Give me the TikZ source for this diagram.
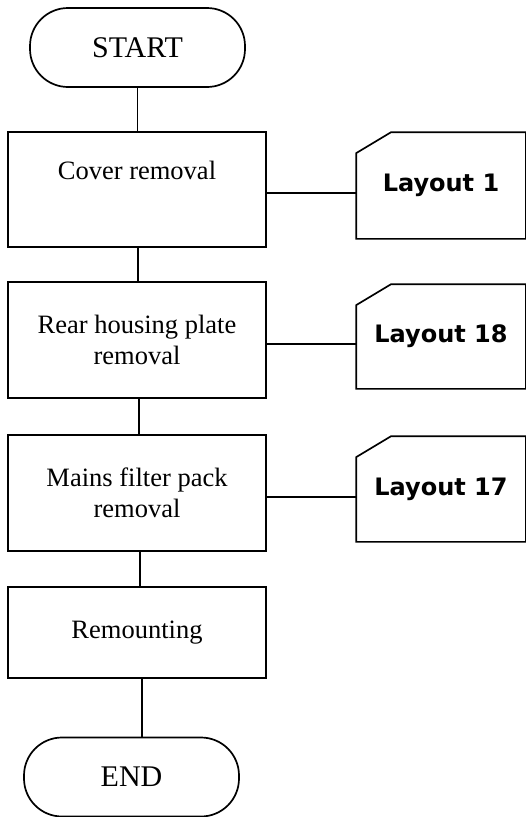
\documentclass[tikz,border=0pt]{standalone}
\usepackage{fontspec}
\setmainfont{Liberation Serif}
\newfontfamily\layfont{DejaVu Sans}
\usetikzlibrary{calc}
\newcommand\cardshape[1]{\draw (#1.south west) -- ($(#1.north west)+(0,21)$) -- ($(#1.north west)+(35,0)$) -- (#1.north east) -- (#1.south east) -- cycle;}
\begin{document}
\begin{tikzpicture}[x=1pt,y=-1pt,
 line width=1.7pt,
 term/.style={draw, rounded corners=38pt, minimum width=215pt, minimum height=79pt, font=\fontsize{30}{36}\selectfont, inner sep=0pt},
 stepbox/.style={draw, minimum width=258pt, align=center, font=\fontsize{26.5}{31}\selectfont, inner sep=0pt},
 card/.style={minimum width=168pt, inner sep=0pt, font=\layfont\bfseries\fontsize{24}{29}\selectfont},
 link/.style={line width=1.7pt},
]
\useasboundingbox (0,0) rectangle (526,817);

\node[term] (start) at (137.5,47.5) {START};
\node[stepbox, minimum height=115pt] (b1) at (137,189.5) {Cover removal\\[8pt]~};
\node[stepbox, minimum height=116pt] (b2) at (137,340) {Rear housing plate\\removal};
\node[stepbox, minimum height=116pt] (b3) at (137,493) {Mains filter pack\\removal};
\node[stepbox, minimum height=91pt] (b4) at (137,632.5) {Remounting};
\node[term] (fin) at (131.5,777) {END};

\node[card, minimum height=105pt] (L1) at (441,185.5) {Layout 1};
\node[card, minimum height=103pt] (L2) at (441,336.5) {Layout 18};
\node[card, minimum height=104pt] (L3) at (441,489) {Layout 17};
\cardshape{L1}
\cardshape{L2}
\cardshape{L3}

\draw[link] (start.south) -- (start.south |- b1.north);
\draw[link] ([xshift=1pt]b1.south) -- ([xshift=1pt]b1.south |- b2.north);
\draw[link] ([xshift=2pt]b2.south) -- ([xshift=2pt]b2.south |- b3.north);
\draw[link] ([xshift=3pt]b3.south) -- ([xshift=3pt]b3.south |- b4.north);
\draw[link] ([xshift=5pt]b4.south) -- ([xshift=5pt]b4.south |- fin.north);

\draw[link] ([yshift=-3.5pt]b1.east) -- ([yshift=-3.5pt]b1.east -| L1.west);
\draw[link] ([yshift=-4pt]b2.east) -- ([yshift=-4pt]b2.east -| L2.west);
\draw[link] ([yshift=-4pt]b3.east) -- ([yshift=-4pt]b3.east -| L3.west);
\end{tikzpicture}
\end{document}
